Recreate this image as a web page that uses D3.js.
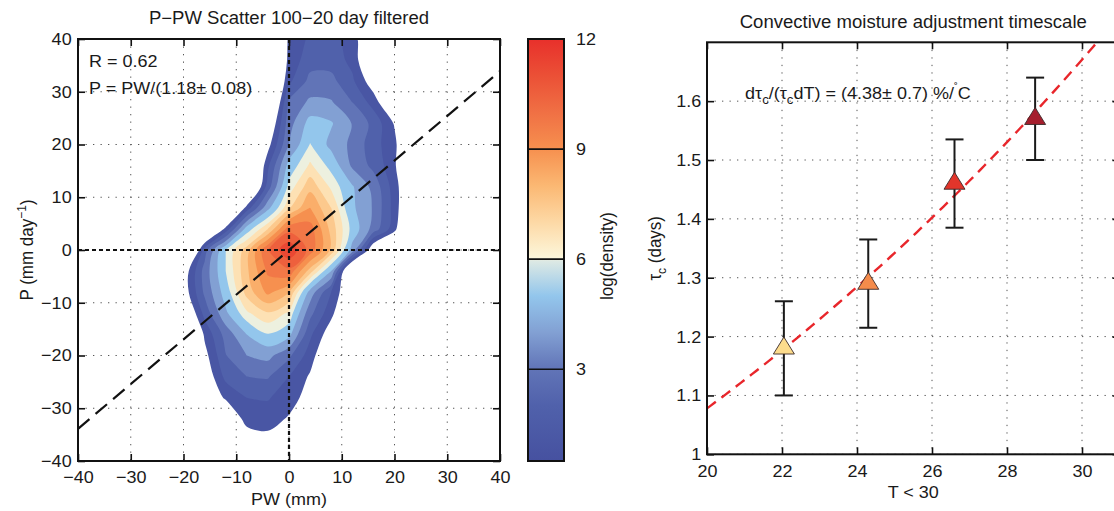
<!DOCTYPE html>
<html>
<head>
<meta charset="utf-8">
<script src="https://cdn.jsdelivr.net/npm/d3@7"></script>
<style>
  body { margin: 0; background: #fff; }
  svg { display: block; font-family: "Liberation Sans", Arial, Helvetica, sans-serif; }
</style>
</head>
<body>
<svg id="fig" width="1114" height="511"></svg>
<script>
// ---------------- left panel: P vs PW joint density ----------------
const pwTicks = [-40, -30, -20, -10, 0, 10, 20, 30, 40];
const pTicks = [-40, -30, -20, -10, 0, 10, 20, 30, 40];

// log(density) sampled on a 4 mm grid; columns = PW, rows = P (top row first)
const gridPW = [-24, -20, -16, -12, -8, -4, 0, 4, 8, 12, 16, 20, 24];
const gridP = [40, 36, 32, 28, 24, 20, 16, 12, 8, 4, 0, -4, -8, -12, -16, -20, -24, -28, -32, -36, -40];
const logDensity = [
  [-2, -2, -2, -2, -2, -2, 1.2, 2.2, 2.3, 1.6, -0.8, -2, -2],
  [-2, -2, -2, -2, -2, -2, 1.3, 2.6, 2.6, 1.7, -0.8, -2, -2],
  [-2, -2, -2, -2, -2, -2, 1.8, 3.3, 3.3, 2.2, 0.3, -2, -2],
  [-2, -2, -2, -2, -2, -2, 3.2, 4.2, 4.1, 3.0, 1.6, -0.8, -2],
  [-2, -2, -2, -2, -2, -0.5, 3.6, 5.4, 5.1, 3.95, 2.7, 0.9, -2],
  [-2, -2, -2, -2, -2, 0.57, 4.0, 6.05, 4.7, 3.77, 2.43, 1.28, -1.5],
  [-2, -2, -2, -2, -2.5, 1.8, 5.4, 6.9, 5.7, 3.83, 2.72, 1.28, -3],
  [-2, -2, -2, -2, -2.1, 2.5, 6.3, 8.0, 6.6, 5.1, 3.7, 1.5, -1],
  [-2, -2, -2, -2.6, 1.4, 4.7, 7.4, 9.0, 7.5, 5.2, 3.9, 1.6, -1.4],
  [-2, -2, -2, 1.3, 5.5, 7.5, 10.2, 10.1, 8.0, 5.7, 3.6, 1.4, -3],
  [-2, -3.5, 2.5, 6.0, 7.9, 10.5, 11.9, 10.2, 8.1, 4.6, -0.2, -2, -2],
  [-2, 0.2, 3.4, 6.0, 8.1, 9.9, 10.3, 7.9, 5.0, -2, -2, -2, -2],
  [-2, 0.27, 3.2, 5.5, 7.8, 9.2, 8.3, 4.6, 2.0, -0.5, -2, -2, -2],
  [-2, -0.83, 2.35, 4.8, 6.6, 7.4, 6.6, 3.3, 1.3, -1, -2, -2, -2],
  [-2, -2.8, 1.2, 3.4, 5.0, 5.95, 5.3, 2.2, 0.28, -2, -2, -2, -2],
  [-2, -2, 0.59, 2.95, 4.0, 4.3, 3.2, 1.5, -0.5, -2, -2, -2, -2],
  [-2, -2, 0.04, 2.3, 3.0, 3.1, 2.0, 0.86, -1.5, -2, -2, -2, -2],
  [-2, -2, 0.3, 1.1, 2.0, 2.1, 1.4, 0.6, -2, -2, -2, -2, -2],
  [-2, -2, -2, 0.1, 1.3, 1.4, 0.9, -1, -2, -2, -2, -2, -2],
  [-2, -2, -2, -2, 0.5, 0.7, 0.0, -2, -2, -2, -2, -2, -2],
  [-2, -2, -2, -2, -2, -2, -2, -2, -2, -2, -2, -2, -2]
];
const densityLevels = [1, 2, 3, 4, 5, 6, 6.75, 7.5, 8.25, 9, 9.75, 10.5, 11.25];

// colour map of log(density)
const cmapValues = [0.5, 2, 3, 4, 5, 5.95, 6.05, 7, 8, 9, 10, 11, 12];
const cmapColors = ['#4651a0', '#5061ab', '#6174b7', '#82a0d3', '#93c6ec', '#dde9e4', '#fcf6da',
                    '#fdd9a6', '#fbb873', '#f6904f', '#f07044', '#eb5036', '#e8302b'];
const colorbarRange = [0.5, 12];
const colorbarTicks = [3, 6, 9, 12];

const corrR = 0.62;
const fitRatio = 1.18;      // P = PW / fitRatio
const fitRatioErr = 0.08;

// ---------------- right panel: adjustment timescale vs SST ----------------
const tempBins = [22.05, 24.3, 26.6, 28.75];
const tauMean = [1.18, 1.29, 1.46, 1.57];
const tauLow = [1.10, 1.215, 1.385, 1.50];
const tauHigh = [1.26, 1.365, 1.535, 1.64];
const binColors = ['#fddc8c', '#f58b4b', '#e2352b', '#a51e2d'];
const tTicks = [20, 22, 24, 26, 28, 30];
const tauTicks = [1, 1.1, 1.2, 1.3, 1.4, 1.5, 1.6];
const tauAt20 = 1.078;      // fitted timescale at 20 °C (days)
const tauGrowth = 4.38;     // % per °C
const tauGrowthErr = 0.7;

// ---------------- drawing ----------------
const svg = d3.select('#fig');
const FS = 17;       // base font size
const TS = 17.5;     // title font size
const SX = 1.06;     // horizontal glyph stretch

function txt(sel, x, y, str, opts = {}) {
  const rot = opts.rotate ? ` rotate(${opts.rotate}) scale(1,${SX})` : ` scale(${SX},1)`;
  const t = sel.append('text')
    .attr('transform', `translate(${x},${y})${rot}`)
    .attr('text-anchor', opts.anchor || 'start')
    .attr('font-size', opts.size || FS)
    .attr('fill', '#1a1a1a');
  if (str != null) t.text(str);
  return t;
}

function styleAxis(g) {
  g.select('.domain').remove();
  g.selectAll('.tick line').attr('stroke', '#111').attr('stroke-width', 1.6);
  g.selectAll('.tick text').attr('font-size', FS).attr('fill', '#1a1a1a')
    .attr('font-family', '"Liberation Sans", Arial, Helvetica, sans-serif')
    .attr('transform', `scale(${SX},1)`);
}

// ===== left panel =====
const L = { x0: 78, x1: 500, y0: 39, y1: 461 };
const xL = d3.scaleLinear().domain([-40, 40]).range([L.x0, L.x1]);
const yL = d3.scaleLinear().domain([-40, 40]).range([L.y1, L.y0]);
const gL = svg.append('g');

svg.append('defs').append('clipPath').attr('id', 'clipL')
  .append('rect').attr('x', L.x0).attr('y', L.y0).attr('width', L.x1 - L.x0).attr('height', L.y1 - L.y0);

// dotted grid
const gridL = gL.append('g').attr('stroke', '#555').attr('stroke-width', 1).attr('stroke-dasharray', '1.3,6.2');
pwTicks.forEach(v => gridL.append('line').attr('x1', xL(v)).attr('x2', xL(v)).attr('y1', L.y0).attr('y2', L.y1));
pTicks.forEach(v => gridL.append('line').attr('y1', yL(v)).attr('y2', yL(v)).attr('x1', L.x0).attr('x2', L.x1));

// filled density contours
const cmap = d3.scaleLinear().domain(cmapValues).range(cmapColors).interpolate(d3.interpolateRgb).clamp(true);
const nx = gridPW.length, ny = gridP.length;
const contours = d3.contours().size([nx, ny]).thresholds(densityLevels)(logDensity.flat());
const colPW = d3.scaleLinear().domain([0, nx - 1]).range([gridPW[0], gridPW[nx - 1]]);
const rowP = d3.scaleLinear().domain([0, ny - 1]).range([gridP[0], gridP[ny - 1]]);
const ringLine = d3.line()
  .x(d => xL(colPW(d[0] - 0.5)))
  .y(d => yL(rowP(d[1] - 0.5)))
  .curve(d3.curveCatmullRomClosed.alpha(0.5));
const gC = gL.append('g').attr('clip-path', 'url(#clipL)');
contours.forEach(c => {
  const d = c.coordinates.map(poly => poly.map(ring => ringLine(ring.slice(0, -1))).join('')).join('');
  gC.append('path').attr('d', d).attr('fill', cmap(c.value));
});

// zero lines
const zero = gL.append('g').attr('stroke', '#111').attr('stroke-width', 2.2).attr('stroke-dasharray', '4,3');
zero.append('line').attr('x1', xL(0)).attr('x2', xL(0)).attr('y1', L.y0).attr('y2', L.y1);
zero.append('line').attr('x1', L.x0).attr('x2', L.x1).attr('y1', yL(0)).attr('y2', yL(0));

// regression line P = PW / fitRatio
gL.append('path')
  .datum([-40, 40])
  .attr('d', d3.line().x(d => xL(d)).y(d => yL(d / fitRatio)))
  .attr('fill', 'none').attr('stroke', '#111').attr('stroke-width', 2.2).attr('stroke-dasharray', '15,8');

// axes
styleAxis(gL.append('g').attr('transform', `translate(0,${L.y1})`)
  .call(d3.axisBottom(xL).tickValues(pwTicks).tickSize(-7).tickPadding(10)));
styleAxis(gL.append('g').attr('transform', `translate(0,${L.y0})`)
  .call(d3.axisTop(xL).tickValues(pwTicks).tickSize(-7).tickFormat('')));
styleAxis(gL.append('g').attr('transform', `translate(${L.x0},0)`)
  .call(d3.axisLeft(yL).tickValues(pTicks).tickSize(-7).tickPadding(6)));
styleAxis(gL.append('g').attr('transform', `translate(${L.x1},0)`)
  .call(d3.axisRight(yL).tickValues(pTicks).tickSize(-7).tickFormat('')));
gL.append('rect').attr('x', L.x0).attr('y', L.y0).attr('width', L.x1 - L.x0).attr('height', L.y1 - L.y0)
  .attr('fill', 'none').attr('stroke', '#111').attr('stroke-width', 2);

// texts
txt(gL, (L.x0 + L.x1) / 2, 24, 'P\u2212PW Scatter 100\u221220 day filtered', { anchor: 'middle', size: TS });
txt(gL, 89, 66.5, `R = ${corrR.toFixed(2)}`);
txt(gL, 89, 93.5, `P = PW/(${fitRatio.toFixed(2)}\u00b1 ${fitRatioErr.toFixed(2)})`);
txt(gL, (L.x0 + L.x1) / 2, 505, 'PW (mm)', { anchor: 'middle' });
const ylab = txt(gL, 33, (L.y0 + L.y1) / 2, null, { anchor: 'middle', rotate: -90 });
ylab.append('tspan').text('P (mm day');
ylab.append('tspan').attr('dy', -7).attr('font-size', 12).text('\u22121');
ylab.append('tspan').attr('dy', 7).text(')');

// colour bar
const CB = { x0: 528, x1: 564 };
const yCB = d3.scaleLinear().domain(colorbarRange).range([L.y1, L.y0]);
const grad = svg.select('defs').append('linearGradient').attr('id', 'cbGrad')
  .attr('x1', 0).attr('y1', 1).attr('x2', 0).attr('y2', 0);
cmapValues.forEach((v, i) => {
  grad.append('stop')
    .attr('offset', (v - colorbarRange[0]) / (colorbarRange[1] - colorbarRange[0]))
    .attr('stop-color', cmapColors[i]);
});
const gCB = svg.append('g');
gCB.append('rect').attr('x', CB.x0).attr('y', L.y0).attr('width', CB.x1 - CB.x0).attr('height', L.y1 - L.y0)
  .attr('fill', 'url(#cbGrad)');
colorbarTicks.forEach(v => {
  gCB.append('line').attr('x1', CB.x0).attr('x2', CB.x1).attr('y1', yCB(v)).attr('y2', yCB(v))
    .attr('stroke', '#111').attr('stroke-width', 1.6);
  txt(gCB, 576, yCB(v) + 6, String(v));
});
gCB.append('rect').attr('x', CB.x0).attr('y', L.y0).attr('width', CB.x1 - CB.x0).attr('height', L.y1 - L.y0)
  .attr('fill', 'none').attr('stroke', '#111').attr('stroke-width', 2);
txt(gCB, 613, 256, 'log(density)', { anchor: 'middle', rotate: -90 });

// ===== right panel =====
const R = { x0: 707, y0: 42.3, y1: 454.3 };
const xR = d3.scaleLinear().domain([20, 31]).range([R.x0, R.x0 + 11 * 37.5]);
R.x1 = xR(31);
const yR = d3.scaleLinear().domain([1, 1.7]).range([R.y1, R.y0]);
const gR = svg.append('g');
svg.select('defs').append('clipPath').attr('id', 'clipR')
  .append('rect').attr('x', R.x0).attr('y', R.y0).attr('width', R.x1 - R.x0).attr('height', R.y1 - R.y0);

const gridR = gR.append('g').attr('stroke', '#555').attr('stroke-width', 1).attr('stroke-dasharray', '1.3,6.2');
tTicks.forEach(v => gridR.append('line').attr('x1', xR(v)).attr('x2', xR(v)).attr('y1', R.y0).attr('y2', R.y1));
tauTicks.forEach(v => gridR.append('line').attr('y1', yR(v)).attr('y2', yR(v)).attr('x1', R.x0).attr('x2', R.x1));

// exponential fit: tau grows tauGrowth % per degree
const fitT = d3.range(20, 31.001, 0.1);
gR.append('path')
  .datum(fitT)
  .attr('clip-path', 'url(#clipR)')
  .attr('d', d3.line().x(t => xR(t)).y(t => yR(tauAt20 * Math.exp(tauGrowth / 100 * (t - 20)))))
  .attr('fill', 'none').attr('stroke', '#e8262b').attr('stroke-width', 2.4).attr('stroke-dasharray', '11,7');

// error bars
const eb = gR.append('g').attr('stroke', '#1a1a1a').attr('stroke-width', 2);
tempBins.forEach((t, i) => {
  const x = xR(t);
  eb.append('line').attr('x1', x).attr('x2', x).attr('y1', yR(tauLow[i])).attr('y2', yR(tauHigh[i]));
  eb.append('line').attr('x1', x - 9).attr('x2', x + 9).attr('y1', yR(tauLow[i])).attr('y2', yR(tauLow[i]));
  eb.append('line').attr('x1', x - 9).attr('x2', x + 9).attr('y1', yR(tauHigh[i])).attr('y2', yR(tauHigh[i]));
});

// triangle markers, centred on their centroid
const TW = 21, TH = 17;
tempBins.forEach((t, i) => {
  const x = xR(t), y = yR(tauMean[i]);
  const pts = [[x, y - 2 * TH / 3], [x + TW / 2, y + TH / 3], [x - TW / 2, y + TH / 3]];
  gR.append('path').attr('d', 'M' + pts.map(p => p.join(',')).join('L') + 'Z')
    .attr('fill', binColors[i]).attr('stroke', '#3a2a2a').attr('stroke-width', 0.9);
});

// axes
styleAxis(gR.append('g').attr('transform', `translate(0,${R.y1})`)
  .call(d3.axisBottom(xR).tickValues(tTicks).tickSize(-7).tickPadding(10.5)));
styleAxis(gR.append('g').attr('transform', `translate(0,${R.y0})`)
  .call(d3.axisTop(xR).tickValues(tTicks).tickSize(-7).tickFormat('')));
styleAxis(gR.append('g').attr('transform', `translate(${R.x0},0)`)
  .call(d3.axisLeft(yR).tickValues(tauTicks).tickSize(-7).tickPadding(5.5).tickFormat(d => String(+d.toFixed(1)))));
styleAxis(gR.append('g').attr('transform', `translate(${R.x1},0)`)
  .call(d3.axisRight(yR).tickValues(tauTicks).tickSize(-7).tickFormat('')));
gR.append('rect').attr('x', R.x0).attr('y', R.y0).attr('width', R.x1 - R.x0).attr('height', R.y1 - R.y0)
  .attr('fill', 'none').attr('stroke', '#111').attr('stroke-width', 2);

// texts
txt(gR, (R.x0 + R.x1) / 2, 27.5, 'Convective moisture adjustment timescale', { anchor: 'middle', size: TS });
txt(gR, (R.x0 + R.x1) / 2, 498, 'T < 30', { anchor: 'middle' });
const rlab = txt(gR, 661, (R.y0 + R.y1) / 2, null, { anchor: 'middle', rotate: -90 });
rlab.append('tspan').text('\u03c4');
rlab.append('tspan').attr('dy', 5).attr('font-size', 12).text('c');
rlab.append('tspan').attr('dy', -5).text(' (days)');

const ann = txt(gR, 745, 99, null);
ann.append('tspan').text('d\u03c4');
ann.append('tspan').attr('dy', 5).attr('font-size', 12.5).text('c');
ann.append('tspan').attr('dy', -5).text('/(\u03c4');
ann.append('tspan').attr('dy', 5).attr('font-size', 12.5).text('c');
ann.append('tspan').attr('dy', -5).text(`dT) = (${tauGrowth}\u00b1 ${tauGrowthErr}) %/`);
ann.append('tspan').attr('dy', -8).attr('font-size', 11).text('\u02da');
ann.append('tspan').attr('dy', 8).text('C');
</script>
</body>
</html>
